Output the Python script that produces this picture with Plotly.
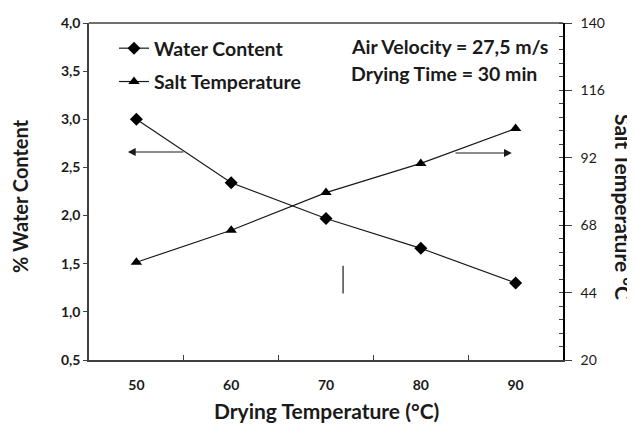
import plotly.graph_objects as go

drying_temp = [50, 60, 70, 80, 90]
water_content = [3.00, 2.34, 1.97, 1.66, 1.30]
salt_temp = [54.8, 66.2, 79.6, 90.0, 102.4]

left_ticks = [0.5, 1.0, 1.5, 2.0, 2.5, 3.0, 3.5, 4.0]
right_ticks = [20, 44, 68, 92, 116, 140]
x_ticks = [50, 60, 70, 80, 90]

FONT = "Lato"
INK = "#1a1a1a"
AXIS = "#404040"

# page offset of the figure div (browser body margin)
OFF = 8
W, H = 635 - OFF, 427 - OFF
# plot area in page pixels
L, R, T, B = 89, 563, 23, 360
PW, PH = R - L, B - T


def px(xp):
    return (xp - L) / PW


def py(yp):
    return 1 - (yp - T) / PH


fig = go.Figure()
fig.add_trace(go.Scatter(
    x=drying_temp, y=water_content, name="Water Content", mode="lines+markers",
    legendgroup="a",
    line=dict(color=INK, width=1.2),
    marker=dict(symbol="diamond", size=10, color="black"),
    yaxis="y"))
fig.add_trace(go.Scatter(
    x=drying_temp, y=salt_temp, name="Salt Temperature", mode="lines+markers",
    legendgroup="b",
    line=dict(color=INK, width=1.2),
    marker=dict(symbol="triangle-up", size=10, color="black"),
    yaxis="y2"))

minor_right = [20 + 4.8 * i for i in range(26)]

fig.update_layout(
    width=W, height=H,
    margin=dict(l=L - OFF, r=W - (R - OFF), t=T - OFF, b=H - (B - OFF), autoexpand=False),
    paper_bgcolor="white", plot_bgcolor="white",
    separators=",.",
    font=dict(family=FONT, size=14, color=INK),
    showlegend=True,
    legend=dict(x=px(114), y=py(29), xanchor="left", yanchor="top",
                font=dict(family=FONT, size=19.5, color=INK, weight="bold"),
                bgcolor="rgba(0,0,0,0)", itemwidth=30, tracegroupgap=5),
    xaxis=dict(range=[45, 95], tickmode="array", tickvals=x_ticks,
               ticktext=[str(v) for v in x_ticks], ticks="", automargin=False,
               ticklabelstandoff=11,
               showline=True, linecolor=AXIS, linewidth=1.5, mirror=False,
               showgrid=False, zeroline=False,
               tickfont=dict(family=FONT, size=14, weight="bold", color=INK),
               minor=dict(tickmode="array", tickvals=[55, 65, 75, 85], ticks="inside",
                          ticklen=5, tickcolor=AXIS, showgrid=False)),
    yaxis=dict(range=[0.5, 4.0], tickmode="array", tickvals=left_ticks,
               ticktext=[f"{v:.1f}".replace(".", ",") for v in left_ticks],
               ticks="outside", ticklen=4, tickcolor=AXIS, automargin=False,
               showline=True, linecolor=AXIS, linewidth=1.5,
               showgrid=False, zeroline=False,
               tickfont=dict(family=FONT, size=14, weight="bold", color=INK)),
    yaxis2=dict(range=[20, 140], overlaying="y", side="right", anchor="x",
                tickmode="array", tickvals=right_ticks,
                ticktext=[str(v) for v in right_ticks], automargin=False,
                ticks="outside", ticklen=7, tickcolor=AXIS, ticklabelstandoff=6,
                showline=True, linecolor="black", linewidth=1.5,
                showgrid=False, zeroline=False,
                tickfont=dict(family=FONT, size=14, color=INK),
                minor=dict(tickmode="array", tickvals=minor_right, ticks="inside",
                           ticklen=4, tickcolor=AXIS, showgrid=False)),
)

fig.add_shape(type="line", xref="paper", yref="paper", x0=0, x1=1, y0=1, y1=1,
              line=dict(color=AXIS, width=1.5))

for text, ycen in [("Air Velocity = 27,5 m/s", 46), ("Drying Time = 30 min", 73)]:
    fig.add_annotation(text=text, x=px(349), y=py(ycen), xref="paper", yref="paper",
                       xanchor="left", yanchor="middle", showarrow=False,
                       font=dict(family=FONT, size=19.5, weight="bold", color=INK))

title_font = dict(family=FONT, size=21, weight="bold", color=INK)
fig.add_annotation(text="% Water Content", x=px(20), y=py(196), xref="paper", yref="paper",
                   xanchor="center", yanchor="middle", showarrow=False, textangle=-90,
                   font=dict(family=FONT, size=20, weight="bold", color=INK))
fig.add_annotation(text="Salt Temperature °C", x=px(624), y=py(207),
                   xref="paper", yref="paper", xanchor="center", yanchor="middle",
                   showarrow=False, textangle=90, font=title_font)
fig.add_annotation(text="Drying Temperature (°C)", x=px(326), y=py(410),
                   xref="paper", yref="paper", xanchor="center", yanchor="middle",
                   showarrow=False, font=title_font)

# arrows pointing to each series' axis
fig.add_annotation(x=49.1, y=2.66, ax=55.1, ay=2.66, xref="x", yref="y", axref="x", ayref="y",
                   text="", showarrow=True, arrowhead=2, arrowsize=1.3, arrowwidth=1.2,
                   arrowcolor=INK)
fig.add_annotation(x=89.6, y=2.65, ax=83.5, ay=2.65, xref="x", yref="y", axref="x", ayref="y",
                   text="", showarrow=True, arrowhead=2, arrowsize=1.3, arrowwidth=1.2,
                   arrowcolor=INK)
fig.add_shape(type="line", xref="x", yref="y", x0=71.8, x1=71.8, y0=1.19, y1=1.48,
              line=dict(color=INK, width=1.2))

fig.write_html("out.html")
